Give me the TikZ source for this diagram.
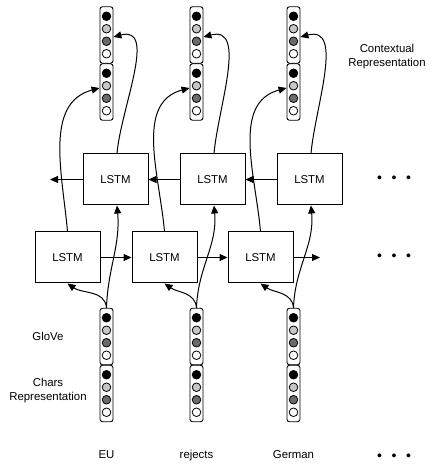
\documentclass[tikz,border=0pt]{standalone}
\usepackage{fontspec}
\setmainfont{Liberation Sans}
\usetikzlibrary{calc,arrows.meta,positioning}
\newcommand{\embvec}[3]{%
  \node[vecbox] (#1) at (#2,#3) {};
  \draw[unit=black]    (#2,#3+18.75) circle (4.3pt);
  \draw[unit=black!22] (#2,#3+6.25)  circle (4.3pt);
  \draw[unit=black!58] (#2,#3-6.25)  circle (4.3pt);
  \draw[unit=white]    (#2,#3-18.75) circle (4.3pt);
}
\newcommand{\moredots}{\textbullet\hspace{9.6pt}\textbullet\hspace{9.6pt}\textbullet}

\begin{document}
\begin{tikzpicture}[
 x=1pt, y=1pt,
 font=\fontsize{11.4}{14}\selectfont,
 lstm/.style={draw, line width=1pt, minimum width=65pt, minimum height=51pt, inner sep=0pt},
 vecbox/.style={draw, line width=0.9pt, rounded corners=2.5pt, minimum width=13pt,
 minimum height=56.5pt, inner sep=0pt},
 unit/.style={line width=0.8pt, fill=#1},
 arr/.style={-{Triangle[length=8pt,width=7pt]}, line width=1pt},
 word/.style={text height=8.5pt, text depth=2pt},
 dots/.style={font=\fontsize{14}{14}\selectfont}
]
\useasboundingbox (0,0) rectangle (441,475);

% Input vectors (GloVe + chars)
\embvec{glove1}{106.5}{138.5}
\embvec{chars1}{106.5}{81.5}
\embvec{glove2}{196.5}{138.5}
\embvec{chars2}{196.5}{81.5}
\embvec{glove3}{293.5}{138.5}
\embvec{chars3}{293.5}{81.5}

% Contextual vectors
\embvec{ctxa1}{106.5}{440}
\embvec{ctxb1}{106.5}{383}
\embvec{ctxa2}{196.5}{440}
\embvec{ctxb2}{196.5}{383}
\embvec{ctxa3}{293.5}{440}
\embvec{ctxb3}{293.5}{383}

% Forward LSTMs
\node[lstm] (fw1) at (67.5,217.5) {LSTM};
\node[lstm] (fw2) at (164.5,217.5) {LSTM};
\node[lstm] (fw3) at (260.5,217.5) {LSTM};
\coordinate (fwend) at (320,217.5);

% Backward LSTMs
\node[lstm] (bw1) at (115.5,295.5) {LSTM};
\node[lstm] (bw2) at (212.5,295.5) {LSTM};
\node[lstm] (bw3) at (309.5,295.5) {LSTM};
\coordinate (bwend) at (50,295.5);

\draw[arr] (fw1) -- (fw2);
\draw[arr] (fw2) -- (fw3);
\draw[arr] (fw3) -- (fwend);
\draw[arr] (bw3) -- (bw2);
\draw[arr] (bw2) -- (bw1);
\draw[arr] (bw1) -- (bwend);

% Inputs into LSTMs
\draw[arr] (glove1.north) to[out=95,in=-35] (fw1.south);
\draw[arr] (glove1.north) to[out=88,in=-85] ([xshift=1.5pt]bw1.south);
\draw[arr] (glove2.north) to[out=95,in=-35] (fw2.south);
\draw[arr] (glove2.north) to[out=88,in=-85] ([xshift=1.5pt]bw2.south);
\draw[arr] (glove3.north) to[out=95,in=-35] (fw3.south);
\draw[arr] (glove3.north) to[out=88,in=-85] ([xshift=1.5pt]bw3.south);

% LSTMs into contextual vectors
\draw[arr] (fw1.north) to[out=95,in=195] ([yshift=4pt]ctxb1.west);
\draw[arr] ([xshift=1.5pt]bw1.north) to[out=85,in=15] ([yshift=-2pt]ctxa1.east);
\draw[arr] (fw2.north) to[out=95,in=195] ([yshift=4pt]ctxb2.west);
\draw[arr] ([xshift=1.5pt]bw2.north) to[out=85,in=15] ([yshift=-2pt]ctxa2.east);
\draw[arr] (fw3.north) to[out=95,in=195] ([yshift=4pt]ctxb3.west);
\draw[arr] ([xshift=1.5pt]bw3.north) to[out=85,in=15] ([yshift=-2pt]ctxa3.east);

% Labels
\node[align=center] (ctxlabel) at (387,418.5) {Contextual\\Representation};
\node (glovelabel) at (48,139) {GloVe};
\node[align=center] (charslabel) at (48,84.5) {Chars\\Representation};
\node[word] (w1) at (106.5,20) {EU};
\node[word] (w2) at (196.5,20) {rejects};
\node[word] (w3) at (293.5,20) {German};

\node[dots] (dotsbw) at (394,295.5) {\moredots};
\node[dots] (dotsfw) at (394,217.5) {\moredots};
\node[dots] (dotsw) at (394,18) {\moredots};
\end{tikzpicture}
\end{document}
